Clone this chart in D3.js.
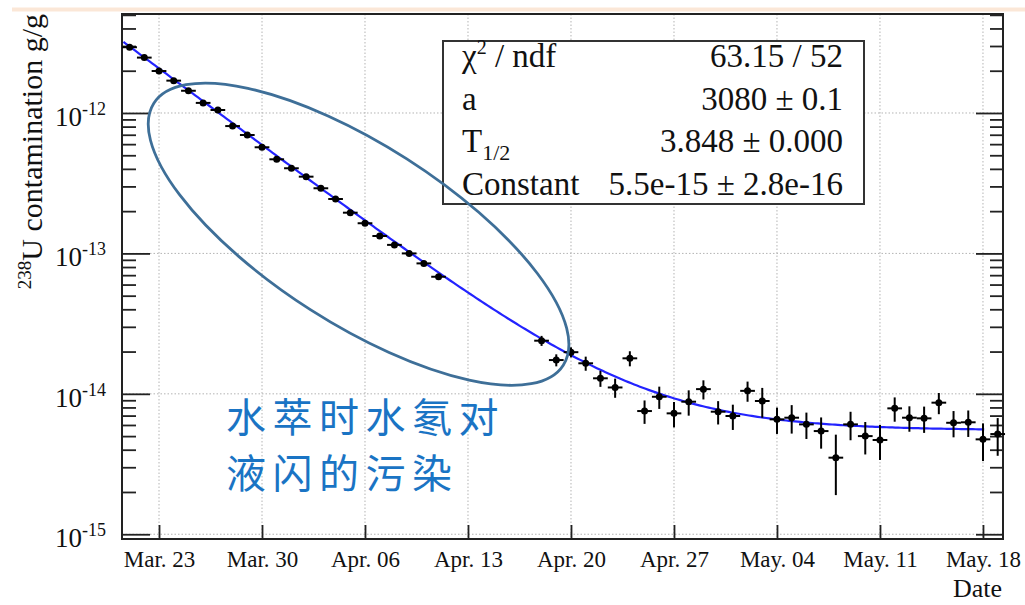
<!DOCTYPE html>
<html>
<head>
<meta charset="utf-8">
<script src="https://cdn.jsdelivr.net/npm/d3@7"></script>
<style>
  body { margin: 0; background: #fff; }
  svg { display: block; font-family: "Liberation Serif", "DejaVu Serif", serif; }
</style>
</head>
<body>
<div id="chart"></div>
<script>
(function() {
  var width = 1025;
  var height = 605;

  // measured points, Rn decay part (before the gap)
  var decayDates = ["03-21", "03-22", "03-23", "03-24", "03-25", "03-26", "03-27", "03-28",
    "03-29", "03-30", "03-31", "04-01", "04-02", "04-03", "04-04", "04-05", "04-06",
    "04-07", "04-08", "04-09", "04-10", "04-11"];
  var decayValues = [2.94e-12, 2.48e-12, 1.99e-12, 1.70e-12, 1.44e-12, 1.18e-12, 1.05e-12,
    8.07e-13, 6.97e-13, 5.70e-13, 4.68e-13, 4.04e-13, 3.52e-13, 2.91e-13, 2.44e-13,
    1.95e-13, 1.64e-13, 1.33e-13, 1.15e-13, 1.00e-13, 8.49e-14, 6.82e-14];
  var decayErrors = [8.8e-14, 7.4e-14, 6.0e-14, 5.1e-14, 4.3e-14, 3.5e-14, 3.2e-14, 2.4e-14,
    2.1e-14, 1.7e-14, 1.4e-14, 1.2e-14, 1.1e-14, 8.7e-15, 7.3e-15, 5.9e-15, 4.9e-15,
    4.0e-15, 3.5e-15, 3.0e-15, 2.5e-15, 2.0e-15];

  // measured points after the gap
  var tailDates = ["04-18", "04-19", "04-20", "04-21", "04-22", "04-23", "04-24", "04-25",
    "04-26", "04-27", "04-28", "04-29", "04-30", "05-01", "05-02", "05-03", "05-04",
    "05-05", "05-06", "05-07", "05-08", "05-09", "05-10", "05-11", "05-12", "05-13",
    "05-14", "05-15", "05-16", "05-17", "05-18", "05-19"];
  var tailValues = [2.39e-14, 1.74e-14, 1.98e-14, 1.65e-14, 1.29e-14, 1.11e-14, 1.79e-14,
    7.54e-15, 9.53e-15, 7.26e-15, 8.79e-15, 1.08e-14, 7.46e-15, 6.95e-15, 1.05e-14,
    8.89e-15, 6.58e-15, 6.76e-15, 6.06e-15, 5.43e-15, 3.51e-15, 6.06e-15, 5.00e-15,
    4.69e-15, 7.88e-15, 6.76e-15, 6.69e-15, 8.65e-15, 6.22e-15, 6.27e-15, 4.74e-15, 5.17e-15];
  var tailErrors = [1.96e-15, 1.71e-15, 1.62e-15, 1.90e-15, 1.69e-15, 1.73e-15, 2.2e-15,
    1.43e-15, 1.72e-15, 1.49e-15, 1.8e-15, 1.68e-15, 1.41e-15, 1.42e-15, 1.72e-15,
    2.13e-15, 1.40e-15, 1.55e-15, 1.29e-15, 1.36e-15, 1.61e-15, 1.39e-15, 1.30e-15,
    1.31e-15, 1.55e-15, 1.39e-15, 1.42e-15, 1.49e-15, 1.32e-15, 1.34e-15, 1.42e-15, 1.55e-15];

  var tickDates = ["03-23", "03-30", "04-06", "04-13", "04-20", "04-27", "05-04", "05-11", "05-18"];
  var tickLabels = ["Mar. 23", "Mar. 30", "Apr. 06", "Apr. 13", "Apr. 20", "Apr. 27",
    "May. 04", "May. 11", "May. 18"];
  var yDecades = [-12, -13, -14, -15];

  // fit result from the stats box
  var statNames = ["chi", "a", "T", "Constant"];
  var statValues = ["63.15 / 52", "3080 \u00b1 0.1", "3.848 \u00b1 0.000", "5.5e-15 \u00b1 2.8e-16"];
  var fitHalfLife = 3.848;      // days
  var fitConstant = 5.5e-15;
  var fitAmplitude = 2.97e-12;  // at fitRef
  var fitRef = "03-21";
  var fitRange = ["2016-03-20T14:00:00Z", "2016-05-18T02:00:00Z"];

  var day = function(s) { return new Date("2016-" + s + "T00:00:00Z"); };

  var svg = d3
    .select("#chart")
    .append("svg")
    .attr("width", width)
    .attr("height", height);

  var left = 122, right = 1003, top = 14, bottom = 539;

  var x = d3
    .scaleUtc()
    .domain([new Date("2016-03-20T11:38:00Z"), new Date("2016-05-19T08:40:00Z")])
    .range([left, right]);

  var y = d3
    .scaleLog()
    .domain([9.25e-16, 5.07e-12])
    .range([bottom, top]);

  // slide decoration band
  svg.append("rect")
    .attr("x", 12).attr("y", 7.5)
    .attr("width", width - 12).attr("height", 4)
    .attr("fill", "#fbe7d7");

  // grid
  var grid = svg.append("g").attr("stroke", "#b4b4b4").attr("stroke-width", 1)
    .attr("stroke-dasharray", "1.5,2");
  grid.selectAll(".gx")
    .data(tickDates)
    .enter()
    .append("line")
    .attr("x1", function(d) { return x(day(d)); })
    .attr("x2", function(d) { return x(day(d)); })
    .attr("y1", top).attr("y2", bottom);
  grid.selectAll(".gy")
    .data(yDecades)
    .enter()
    .append("line")
    .attr("x1", left).attr("x2", right)
    .attr("y1", function(d) { return y(Math.pow(10, d)); })
    .attr("y2", function(d) { return y(Math.pow(10, d)); });

  // minor log ticks
  var minorTicks = [];
  for (var k = -16; k <= -11; k++) {
    for (var m = 2; m <= 9; m++) {
      var v = m * Math.pow(10, k);
      if (v > y.domain()[0] && v < y.domain()[1]) minorTicks.push(v);
    }
  }
  var majorTicks = yDecades.map(function(d) { return Math.pow(10, d); });

  function tickAxis(axis, size, vals, xpos) {
    var g = svg.append("g")
      .attr("transform", "translate(" + xpos + ",0)")
      .call(axis.scale(y).tickValues(vals).tickSize(size).tickFormat(""));
    g.select(".domain").remove();
    g.selectAll("line").attr("stroke", "#222").attr("stroke-width", 1.8);
  }
  tickAxis(d3.axisLeft(), -14, minorTicks, left);
  tickAxis(d3.axisLeft(), -28, majorTicks, left);
  tickAxis(d3.axisRight(), -13, minorTicks, right);
  tickAxis(d3.axisRight(), -27, majorTicks, right);

  // x axis
  var xAxis = svg.append("g")
    .attr("transform", "translate(0," + bottom + ")")
    .call(
      d3.axisBottom(x)
        .tickValues(tickDates.map(day))
        .tickSize(-14)
        .tickPadding(12)
        .tickFormat(function(d, i) { return tickLabels[i]; })
    );
  xAxis.select(".domain").remove();
  xAxis.selectAll("line").attr("stroke", "#222").attr("stroke-width", 1.8);
  xAxis.selectAll("text")
    .attr("fill", "#111")
    .style("font-family", "Liberation Serif")
    .style("font-size", "23px");

  // y labels 10^k
  var yLab = svg.selectAll(".ylab")
    .data(yDecades)
    .enter()
    .append("text")
    .attr("class", "ylab")
    .attr("x", 106)
    .attr("y", function(d) { return y(Math.pow(10, d)) + 13; })
    .attr("text-anchor", "end")
    .attr("fill", "#111")
    .style("font-size", "27px");
  yLab.append("tspan").text("10");
  yLab.append("tspan")
    .attr("dy", -11)
    .style("font-size", "18px")
    .text(function(d) { return String(d); });

  // frame
  svg.append("rect")
    .attr("x", left).attr("y", top)
    .attr("width", right - left).attr("height", bottom - top)
    .attr("fill", "none")
    .attr("stroke", "#222")
    .attr("stroke-width", 2);

  // axis titles
  var yTitle = svg.append("text")
    .attr("transform", "translate(42," + top + ") rotate(-90)")
    .attr("text-anchor", "end")
    .attr("fill", "#111")
    .style("font-size", "30px");
  yTitle.append("tspan").attr("dy", -11).style("font-size", "19px").text("238");
  yTitle.append("tspan").attr("dy", 11).text("U contamination g/g");

  svg.append("text")
    .attr("x", 1002).attr("y", 597)
    .attr("text-anchor", "end")
    .attr("fill", "#111")
    .style("font-size", "26px")
    .text("Date");

  // fit curve
  var t0 = day(fitRef).getTime();
  var fitFn = function(t) {
    var days = (t - t0) / 864e5;
    return fitAmplitude * Math.pow(2, -days / fitHalfLife) + fitConstant;
  };
  var fs = new Date(fitRange[0]).getTime(), fe = new Date(fitRange[1]).getTime();
  var fitPts = d3.range(0, 301).map(function(i) { return fs + (fe - fs) * i / 300; });
  svg.append("path")
    .datum(fitPts)
    .attr("fill", "none")
    .attr("stroke", "#2323ff")
    .attr("stroke-width", 2.2)
    .attr("d", d3.line()
      .x(function(t) { return x(new Date(t)); })
      .y(function(t) { return y(fitFn(t)); }));

  // data points with error bars
  var points = decayDates.map(function(d, i) {
    return { date: day(d), value: decayValues[i], err: decayErrors[i] };
  }).concat(tailDates.map(function(d, i) {
    return { date: day(d), value: tailValues[i], err: tailErrors[i] };
  }));

  var halfDay = 12 * 36e5;
  var pg = svg.selectAll(".pt")
    .data(points)
    .enter()
    .append("g")
    .attr("class", "pt");
  pg.append("line")
    .attr("x1", function(d) { return x(d.date); })
    .attr("x2", function(d) { return x(d.date); })
    .attr("y1", function(d) { return y(d.value + d.err); })
    .attr("y2", function(d) { return y(d.value - d.err); })
    .attr("stroke", "#000").attr("stroke-width", 2);
  pg.append("line")
    .attr("x1", function(d) { return x(new Date(d.date.getTime() - halfDay)); })
    .attr("x2", function(d) { return x(new Date(d.date.getTime() + halfDay)); })
    .attr("y1", function(d) { return y(d.value); })
    .attr("y2", function(d) { return y(d.value); })
    .attr("stroke", "#000").attr("stroke-width", 2);
  pg.append("circle")
    .attr("cx", function(d) { return x(d.date); })
    .attr("cy", function(d) { return y(d.value); })
    .attr("r", 3.5)
    .attr("fill", "#000");

  // stats box
  var box = svg.append("g").attr("transform", "translate(443,41)");
  box.append("rect")
    .attr("width", 421).attr("height", 163)
    .attr("fill", "#fff")
    .attr("stroke", "#333")
    .attr("stroke-width", 2);
  var rowY = [26, 69, 111, 154];
  var names = box.selectAll(".sname")
    .data(statNames)
    .enter()
    .append("text")
    .attr("x", 19)
    .attr("y", function(d, i) { return rowY[i]; })
    .attr("fill", "#111")
    .style("font-size", "33px");
  names.each(function(d) {
    var t = d3.select(this);
    if (d === "chi") {
      t.append("tspan").text("\u03c7");
      t.append("tspan").attr("dy", -13).style("font-size", "20px").text("2");
      t.append("tspan").attr("dy", 13).text(" / ndf");
    } else if (d === "T") {
      t.append("tspan").text("T");
      t.append("tspan").attr("dy", 8).style("font-size", "22px").text("1/2");
    } else {
      t.text(d);
    }
  });
  box.selectAll(".sval")
    .data(statValues)
    .enter()
    .append("text")
    .attr("x", 400)
    .attr("y", function(d, i) { return rowY[i]; })
    .attr("text-anchor", "end")
    .attr("fill", "#111")
    .style("font-size", "33px")
    .text(function(d) { return d; });

  // annotation ellipse around the fast decay part
  var ex = x(new Date("2016-04-05T13:30:00Z")), ey = y(1.37e-13);
  svg.append("ellipse")
    .attr("transform", "translate(" + ex + "," + ey + ") rotate(32.6)")
    .attr("rx", 243).attr("ry", 89.5)
    .attr("fill", "none")
    .attr("stroke", "#3e6f98")
    .attr("stroke-width", 2.8);

  var note = svg.append("g")
    .attr("fill", "#1a74c4")
    .style("font-family", "'Noto Sans CJK SC'")
    .style("font-size", "40px")
    .style("letter-spacing", "6.5px");
  note.append("text").attr("x", 226).attr("y", 432).text("水萃时水氡对");
  note.append("text").attr("x", 226).attr("y", 488).text("液闪的污染");
})();
</script>
</body>
</html>
